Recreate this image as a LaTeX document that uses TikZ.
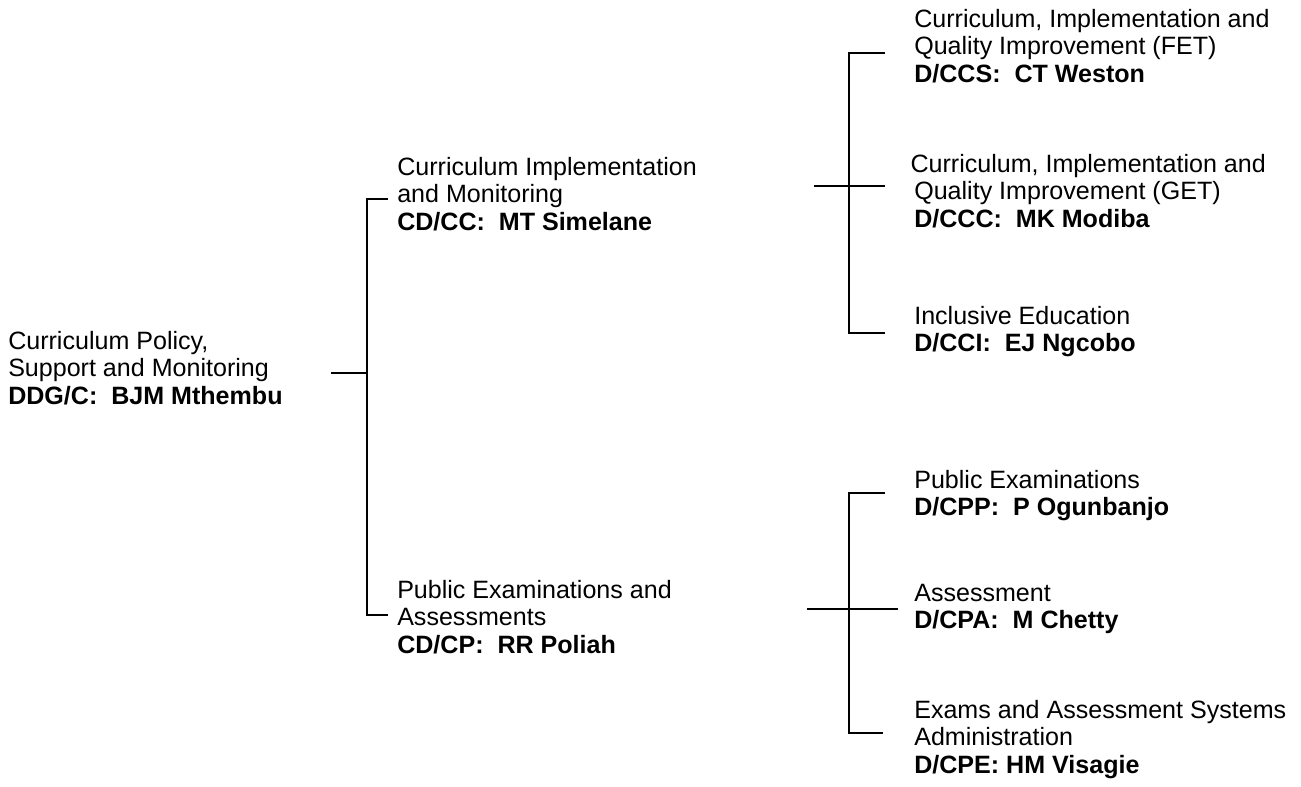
\documentclass[tikz,border=0pt]{standalone}
\usepackage{fontspec}
\setmainfont{Liberation Sans}

\tikzset{
  post/.style={anchor=north west, inner sep=0pt, align=left,
    font=\fontsize{18.8pt}{20.5pt}\selectfont},
  tree/.style={line width=0.9pt}
}

\begin{document}
\begin{tikzpicture}[x=0.75pt, y=-0.75pt]
  \useasboundingbox (0,0) rectangle (1301,787);

  % posts
  \node[post] (ddg) at (8,331) {Curriculum Policy,\\Support and Monitoring\\\textbf{DDG/C:~ BJM Mthembu}};
  \node[post] (cdcc) at (397,157) {Curriculum Implementation\\and Monitoring\\\textbf{CD/CC:~ MT Simelane}};
  \node[post] (cdcp) at (397,580) {Public Examinations and\\Assessments\\\textbf{CD/CP:~ RR Poliah}};
  \node[post] (dccs) at (914,9) {Curriculum, Implementation and\\Quality Improvement (FET)\\\textbf{D/CCS:~ CT Weston}};
  \node[post] (dccc) at (914,154) {\hspace*{-2.8pt}Curriculum, Implementation and\\Quality Improvement (GET)\\\textbf{D/CCC:~ MK Modiba}};
  \node[post] (dcci) at (914,306) {Inclusive Education\\\textbf{D/CCI:~ EJ Ngcobo}};
  \node[post] (dcpp) at (914,470) {Public Examinations\\\textbf{D/CPP:~ P Ogunbanjo}};
  \node[post] (dcpa) at (914,584) {Assessment\\\textbf{D/CPA:~ M Chetty}};
  \node[post] (dcpe) at (914,700) {Exams and Assessment Systems\\Administration\\\textbf{D/CPE: HM Visagie}};

  % joints
  \coordinate (ddg-out) at (331,373);
  \coordinate (mid-bus) at (367,373);
  \coordinate (cc-in) at (388,199);
  \coordinate (cp-in) at (388,615);

  \coordinate (cc-out) at (814,186);
  \coordinate (cc-bus) at (849,186);
  \coordinate (ccs-in) at (885,53);
  \coordinate (ccc-in) at (885,186);
  \coordinate (cci-in) at (885,333);

  \coordinate (cp-out) at (807,609);
  \coordinate (cp-bus) at (849,609);
  \coordinate (cpp-in) at (885,493);
  \coordinate (cpa-in) at (898,609);
  \coordinate (cpe-in) at (883,733);

  % lines
  \draw[tree] (ddg-out) -- (mid-bus);
  \draw[tree] (cc-in) -| (mid-bus) |- (cp-in);
  \draw[tree] (cc-out) -- (ccc-in);
  \draw[tree] (ccs-in) -| (cc-bus) |- (cci-in);
  \draw[tree] (cp-out) -- (cpa-in);
  \draw[tree] (cpp-in) -| (cp-bus) |- (cpe-in);
\end{tikzpicture}
\end{document}
